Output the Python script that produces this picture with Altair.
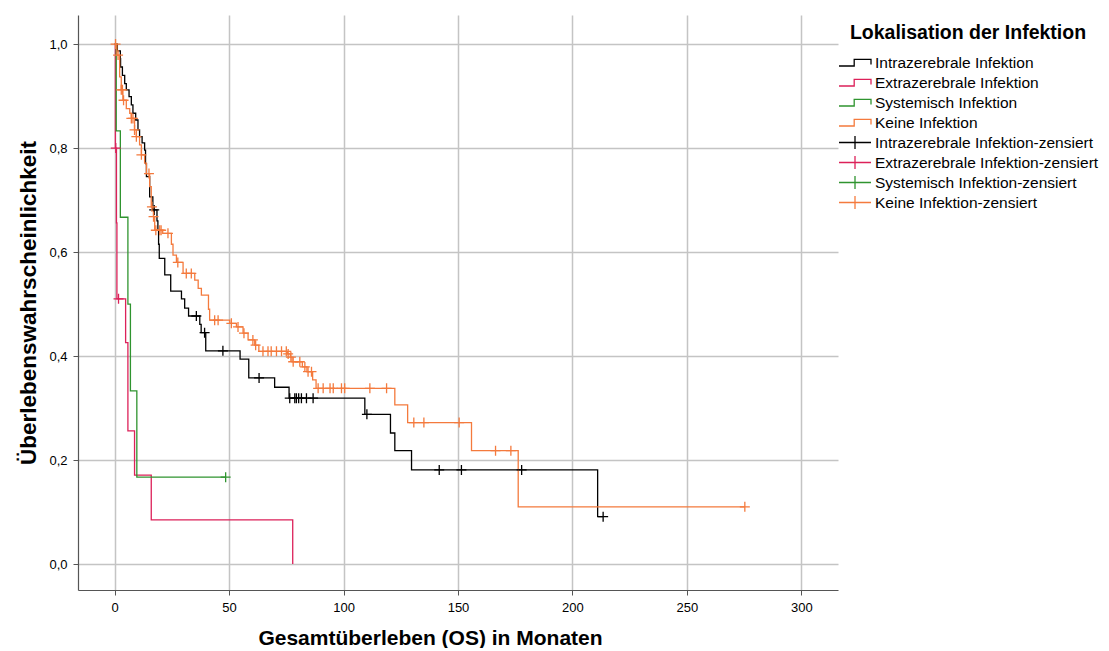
import altair as alt
import pandas as pd

# ---------------- data ----------------
curve_labels = ["Intrazerebrale Infektion", "Extrazerebrale Infektion",
                "Systemisch Infektion", "Keine Infektion"]
censor_labels = [c + "-zensiert" for c in curve_labels]
legend_labels = curve_labels + censor_labels
colors = ["#000000", "#dc2159", "#2f942f", "#f47a3d"]

intra_t = [0, 1.2, 2.5, 2.6, 3.4, 4.4, 5.1, 6.3, 7.3, 8.0, 9.2, 10.2, 10.9, 12.0,
           13.1, 13.5, 13.9, 15.3, 16.7, 18.5, 18.9, 19.2, 19.5, 21.9, 24.5, 29.2,
           30.6, 32.3, 37.2, 37.8, 39.8, 54.8, 58.6, 69.9, 76.2, 109.3, 120.5,
           122.4, 129.7, 211.0]
intra_s = [1.0, 0.987, 0.972, 0.956, 0.940, 0.924, 0.912, 0.899, 0.883, 0.867,
           0.854, 0.835, 0.822, 0.810, 0.796, 0.770, 0.745, 0.706, 0.681, 0.660,
           0.642, 0.615, 0.588, 0.556, 0.525, 0.510, 0.492, 0.477, 0.461, 0.445,
           0.410, 0.394, 0.358, 0.340, 0.319, 0.288, 0.252, 0.218, 0.181, 0.091]
intra_end = 213.4
intra_cens = [17.3, 35.7, 39.3, 47.3, 63.1, 76.5, 78.7, 79.4, 80.4, 81.6, 83.8,
              86.7, 110.2, 141.8, 151.5, 177.8, 213.4]

extra_t = [0, 0.3, 0.8, 1.0, 4.8, 5.8, 8.7, 16.0, 77.8]
extra_s = [1.0, 0.8, 0.656, 0.51, 0.426, 0.256, 0.171, 0.085, 0.0]
extra_end = 77.8
extra_cens = [0.5, 1.7]

sys_t = [0, 0.7, 2.5, 5.8, 6.9, 9.7]
sys_s = [1.0, 0.833, 0.667, 0.5, 0.333, 0.167]
sys_end = 48.5
sys_cens = [48.5]

keine_t = [0, 1.0, 2.2, 2.9, 3.6, 5.1, 6.6, 7.3, 8.7, 9.5, 10.9, 11.7, 13.1, 13.9,
           15.3, 16.0, 17.0, 17.5, 21.0, 24.8, 25.5, 27.0, 29.9, 35.0, 36.5, 37.9,
           41.0, 41.5, 50.3, 53.2, 56.1, 58.3, 61.2, 63.0, 75.5, 76.8, 77.5, 82.0,
           84.0, 86.5, 88.0, 122.4, 128.0, 155.9, 176.3]
keine_s = [1.0, 0.979, 0.937, 0.912, 0.892, 0.876, 0.867, 0.857, 0.835, 0.822,
           0.806, 0.787, 0.771, 0.751, 0.726, 0.687, 0.668, 0.642, 0.636, 0.615,
           0.594, 0.580, 0.559, 0.546, 0.530, 0.517, 0.490, 0.469, 0.463, 0.456,
           0.444, 0.431, 0.421, 0.409, 0.404, 0.398, 0.389, 0.379, 0.370, 0.354,
           0.338, 0.306, 0.272, 0.218, 0.110]
keine_end = 275.3
keine_cens = [0.4, 1.5, 2.9, 3.4, 3.9, 7.3, 8.0, 8.7, 9.5, 11.7, 15.0, 16.3, 17.0,
              18.0, 19.7, 20.3, 23.3, 27.6, 31.3, 33.5, 43.7, 45.2, 51.0, 53.9,
              56.5, 60.4, 61.6, 64.8, 67.0, 68.4, 70.7, 72.9, 75.0, 75.8, 77.0,
              78.0, 80.9, 83.1, 84.5, 86.0, 88.9, 91.1, 94.1, 95.5, 99.1, 100.5,
              111.5, 118.8, 130.7, 135.1, 150.5, 166.4, 173.1, 275.3]

x_ticks = [0, 50, 100, 150, 200, 250, 300]
y_ticks = [0.0, 0.2, 0.4, 0.6, 0.8, 1.0]

# ---------------- build tables ----------------
series = [
    (intra_t, intra_s, intra_end, intra_cens),
    (extra_t, extra_s, extra_end, extra_cens),
    (sys_t, sys_s, sys_end, sys_cens),
    (keine_t, keine_s, keine_end, keine_cens),
]

line_rows, cens_rows = [], []
for k, (ts, ss, end, cens) in enumerate(series):
    pts = list(zip(ts, ss))
    if end > ts[-1]:
        pts.append((end, ss[-1]))
    for i, (t, s) in enumerate(pts):
        line_rows.append({"t": t, "s": s, "lab": curve_labels[k], "idx": i})
    for c in cens:
        level = ss[0]
        for t, s in zip(ts, ss):
            if t <= c:
                level = s
        cens_rows.append({"t": c, "s": level, "lab": censor_labels[k]})

lines_df = pd.DataFrame(line_rows)
cens_df = pd.DataFrame(cens_rows)
# legend-only rows, placed outside the visible domain (clipped away)
legend_df = pd.DataFrame({"t": [-1000] * 8, "s": [-10] * 8, "lab": legend_labels})

# ---------------- styling ----------------
FONT = "Liberation Sans"
step_path = "M -1 0.22 L -0.05 0.22 L -0.05 -0.2 L 1 -0.2 L 1 0.12"
plus_legend = "M -1 0 L 1 0 M 0 -0.4 L 0 0.4"
plus_mark = "M -1 0 L 1 0 M 0 -1 L 0 1"

x_scale = alt.Scale(domain=[-16, 316], nice=False, zero=False)
y_scale = alt.Scale(domain=[-0.05, 1.056], nice=False, zero=False)
color_scale = alt.Scale(domain=legend_labels, range=colors + colors)

x_axis = alt.Axis(values=x_ticks, title="Gesamtüberleben (OS) in Monaten",
                  titlePadding=13, labelPadding=6, titleFontSize=21, titleX=352)
y_axis = alt.Axis(values=y_ticks, title="Überlebenswahrscheinlichkeit",
                  labelExpr="replace(format(datum.value, '.1f'), '.', ',')",
                  titlePadding=8, labelPadding=6, titleFontSize=22.5)

lines = alt.Chart(lines_df).mark_line(interpolate="step-after", strokeWidth=1.3).encode(
    x=alt.X("t:Q", scale=x_scale, axis=x_axis),
    y=alt.Y("s:Q", scale=y_scale, axis=y_axis),
    color=alt.Color("lab:N", scale=color_scale),
    order=alt.Order("idx:Q"),
)

marks = alt.Chart(cens_df).mark_point(shape=plus_mark, size=100, filled=False,
                                      strokeWidth=1.3, opacity=1).encode(
    x="t:Q",
    y="s:Q",
    color=alt.Color("lab:N", scale=color_scale),
)

legend_props = dict(title="Lokalisation der Infektion", orient="none",
                    legendX=760, legendY=9, symbolSize=1024,
                    symbolStrokeWidth=1.3, clipHeight=20,
                    rowPadding=0, labelOffset=3, titlePadding=9,
                    titleAnchor="middle", titleLimit=500, padding=0)

legend_layer = alt.Chart(legend_df).mark_point(filled=False, size=1024, strokeWidth=1.3,
                                               opacity=1, clip=True).encode(
    x="t:Q",
    y="s:Q",
    color=alt.Color("lab:N", scale=color_scale, legend=alt.Legend(**legend_props)),
    shape=alt.Shape("lab:N", scale=alt.Scale(domain=legend_labels,
                                             range=[step_path] * 4 + [plus_legend] * 4),
                    legend=alt.Legend(**legend_props)),
)

chart = alt.layer(lines, marks, legend_layer).properties(
    width=760, height=575,
    padding={"left": 9, "top": 7, "right": 0, "bottom": 0},
).configure_view(stroke=None).configure_axis(
    labelFont=FONT, labelFontSize=13, labelColor="#000000",
    titleFont=FONT, titleFontSize=19, titleFontWeight="bold", titleColor="#000000",
    grid=True, gridColor="#c4c4c4", gridWidth=1.5,
    domainColor="#555555", domainWidth=1.2, tickColor="#555555", tickSize=5,
).configure_legend(
    labelFont=FONT, labelFontSize=15.5, labelColor="#000000",
    titleFont=FONT, titleFontSize=19.5, titleFontWeight="bold", titleColor="#000000",
    labelLimit=400,
)

chart.save("out.html", embed_options={"renderer": "svg", "actions": False})
